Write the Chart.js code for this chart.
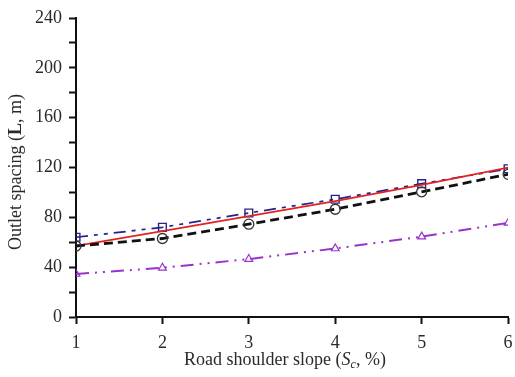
<!DOCTYPE html>
<html>
<head>
<meta charset="utf-8">
<script src="https://cdn.jsdelivr.net/npm/chart.js@4/dist/chart.umd.min.js"></script>
<style>
  html, body { margin: 0; padding: 0; background: #fff; }
  #wrap { width: 515px; height: 377px; }
</style>
</head>
<body>
<div id="wrap"><canvas id="c" width="515" height="377"></canvas></div>
<script>
// Road shoulder slope (%) on the x axis
const slopes = [1, 2, 3, 4, 5, 6];
// Outlet spacing (m) for each method
const seriesSquares   = [64, 72, 83.5, 94.5, 107, 119];
const seriesRed       = [57, 69, 81, 93, 106, 120];
const seriesCircles   = [57, 63, 74.5, 86.5, 100.5, 114.5];
const seriesTriangles = [34.5, 39.5, 46.5, 55, 64.5, 75.5];
const yTicks = [0, 40, 80, 120, 160, 200, 240];

const serif = "'Liberation Serif', 'Times New Roman', serif";
const ink = '#2a2a2a';

function pts(vals) { return slopes.map((x, i) => ({ x, y: vals[i] })); }

// Axis titles with mixed styles (bold L, italic S with subscript c)
const axisTitles = {
  id: 'axisTitles',
  afterDraw(chart) {
    const ctx = chart.ctx;
    const area = chart.chartArea;
    ctx.save();
    ctx.fillStyle = ink;
    ctx.textBaseline = 'alphabetic';

    // y title
    const yParts = [
      { t: 'Outlet spacing (', f: '18px ' + serif },
      { t: 'L', f: 'bold 18px ' + serif },
      { t: ', m)', f: '18px ' + serif }
    ];
    let w = 0;
    yParts.forEach(p => { ctx.font = p.f; p.w = ctx.measureText(p.t).width; w += p.w; });
    ctx.translate(21, 172);
    ctx.rotate(-Math.PI / 2);
    let x = -w / 2;
    yParts.forEach(p => { ctx.font = p.f; ctx.fillText(p.t, x, 0); x += p.w; });
    ctx.restore();

    // x title
    ctx.save();
    ctx.fillStyle = ink;
    ctx.textBaseline = 'alphabetic';
    const xParts = [
      { t: 'Road shoulder slope (', f: '18px ' + serif, dy: 0 },
      { t: 'S', f: 'italic 18px ' + serif, dy: 0 },
      { t: 'c', f: 'italic 12px ' + serif, dy: 3 },
      { t: ', %)', f: '18px ' + serif, dy: 0 }
    ];
    w = 0;
    xParts.forEach(p => { ctx.font = p.f; p.w = ctx.measureText(p.t).width; w += p.w; });
    x = 285 - w / 2;
    const base = 365;
    xParts.forEach(p => { ctx.font = p.f; ctx.fillText(p.t, x, base + p.dy); x += p.w; });
    ctx.restore();
  }
};

new Chart(document.getElementById('c'), {
  type: 'line',
  data: {
    datasets: [
      {
        data: pts(seriesTriangles),
        borderColor: '#9933cc',
        borderWidth: 2,
        borderDash: [13, 6, 2, 6, 2, 6],
        pointStyle: 'triangle',
        pointRadius: 4.5,
        pointBorderWidth: 1.2,
        pointBackgroundColor: 'rgba(0,0,0,0)',
        pointBorderColor: '#9933cc',
        fill: false
      },
      {
        data: pts(seriesCircles),
        borderColor: '#111',
        borderWidth: 2.8,
        borderDash: [9, 5],
        pointStyle: 'circle',
        pointRadius: 5,
        pointBorderWidth: 1.3,
        pointBackgroundColor: 'rgba(0,0,0,0)',
        pointBorderColor: '#333',
        fill: false
      },
      {
        data: pts(seriesRed),
        borderColor: '#e32222',
        borderWidth: 1.7,
        pointRadius: 0,
        fill: false
      },
      {
        data: pts(seriesSquares),
        borderColor: '#23238a',
        borderWidth: 1.7,
        borderDash: [12, 6, 4, 6, 4, 6],
        pointStyle: 'rect',
        pointRadius: 5.5,
        pointBorderWidth: 1.4,
        pointBackgroundColor: 'rgba(0,0,0,0)',
        pointBorderColor: '#23238a',
        fill: false
      }
    ]
  },
  options: {
    responsive: false,
    animation: false,
    events: [],
    layout: { padding: { top: 18, right: 0, left: 0, bottom: 0 } },
    plugins: { legend: { display: false }, tooltip: { enabled: false } },
    elements: { line: { tension: 0 } },
    scales: {
      x: {
        type: 'linear',
        min: 1, max: 6,
        afterFit(s) { s.height = 60; s.paddingRight = 5.5; },
        ticks: { stepSize: 1, color: ink, font: { family: serif, size: 18 }, padding: 8 },
        grid: { drawOnChartArea: false, tickLength: 7, tickWidth: 2, color: '#111' },
        border: { color: '#111', width: 2 }
      },
      y: {
        type: 'linear',
        min: 0, max: 240,
        afterFit(s) { s.width = 76; },
        ticks: {
          stepSize: 20,
          color: ink,
          font: { family: serif, size: 18 },
          padding: 7,
          callback: v => yTicks.includes(v) ? String(v) : ''
        },
        grid: { drawOnChartArea: false, tickLength: 7, tickWidth: 2, color: '#111' },
        border: { color: '#111', width: 2 }
      }
    }
  },
  plugins: [axisTitles]
});
</script>
</body>
</html>
